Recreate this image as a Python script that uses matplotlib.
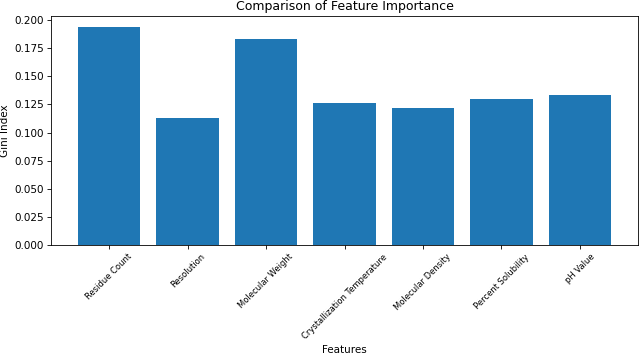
import matplotlib.pyplot as plt

# Feature names and their importance (Gini index)
features = ["Residue Count", "Resolution", "Molecular Weight",
            "Crystallization Temperature", "Molecular Density",
            "Percent Solubility", "pH Value"]
gini = [0.1939, 0.1131, 0.1831, 0.1259, 0.1214, 0.1300, 0.1336]

fig, ax = plt.subplots(figsize=(640 / 75, 354 / 75), dpi=75)
ax.bar(features, gini, color="#1f77b4")

ax.set_title("Comparison of Feature Importance", fontsize=12)
ax.set_xlabel("Features", fontsize=10)
ax.set_ylabel("Gini Index", fontsize=10)
plt.xticks(rotation=45, fontsize=8)
plt.yticks(fontsize=10)

# axes fill almost the whole canvas, like a tight crop
fig.subplots_adjust(left=51 / 640, right=638 / 640,
                    bottom=1 - 245 / 354, top=1 - 16 / 354)
plt.savefig("out.png", dpi=75)
